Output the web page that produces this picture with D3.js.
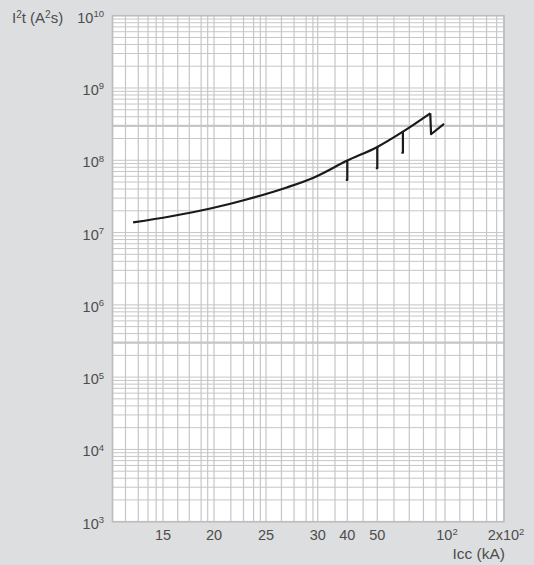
<!DOCTYPE html>
<html>
<head>
<meta charset="utf-8">
<script src="https://cdn.jsdelivr.net/npm/d3@7"></script>
<style>
  html, body { margin: 0; padding: 0; background: #dddee0; }
  svg { display: block; }
  text { font-family: "Liberation Sans", Arial, sans-serif; fill: #4d4d4d; }
</style>
</head>
<body>
<svg id="chart" width="534" height="565"></svg>
<script>
// Let-through energy I²t versus prospective short-circuit current Icc
const curveIcc = [11.8, 15.6, 19.6, 23.0, 26.9, 29.5, 40, 50, 65, 86];
const curveI2t = [1.38e7, 1.67e7, 2.15e7, 2.87e7, 4.21e7, 5.7e7, 9.9e7, 1.53e8, 2.49e8, 4.47e8];
const tailIcc = [86, 86.7, 99];
const tailI2t = [4.47e8, 2.29e8, 3.18e8];
const dropIcc = [40, 50, 65];
const dropTop = [9.9e7, 1.53e8, 2.49e8];
const dropBottom = [5.34e7, 7.75e7, 1.27e8];

// Current axis: labelled breakpoints and the background rulings in between
const xKnots = [10, 15, 20, 25, 30, 40, 50, 100, 200];
const xLabels = [
  { v: 15, base: "15" }, { v: 20, base: "20" }, { v: 25, base: "25" },
  { v: 30, base: "30" }, { v: 40, base: "40" }, { v: 50, base: "50" },
  { v: 100, base: "10", sup: "2" }, { v: 200, base: "2x10", sup: "2" }
];
const xMinor = [11.1, 12.3, 13.3, 14.2, 16.3, 17.4, 18.6, 19.3, 21.5, 22.7, 23.7, 24.4,
                26.4, 27.6, 28.8, 29.5, 35.5, 45, 59.3, 69.4, 80.2, 91.2, 119, 139.5, 163, 183.5];

// Energy axis: decades 10^3 … 10^10
const yExponents = [3, 4, 5, 6, 7, 8, 9, 10];
const yHeavy = [3e5, 3e8];

const svg = d3.select("#chart");
const plotL = 112.5, plotR = 504, plotT = 15.7, plotB = 521.7;

// Piecewise logarithmic current scale through the labelled values
const xRange = [plotL, 163, 214, 266, 317.7, 347.3, 377.3, 445, plotR];
const x = d3.scaleLog().domain(xKnots).range(xRange);
const y = d3.scaleLog().domain([1e3, 1e10]).range([plotB, plotT]);

// Plot background
svg.append("rect")
  .attr("x", plotL).attr("y", plotT)
  .attr("width", plotR - plotL).attr("height", plotB - plotT)
  .attr("fill", "#ffffff");

const grid = svg.append("g").attr("stroke", "#c6c6c8").attr("fill", "none");

// Horizontal rulings: decades and their 2…9 subdivisions
const yLines = [];
for (let e = 3; e < 10; e++) {
  for (let m = 1; m <= 9; m++) yLines.push(m * Math.pow(10, e));
}
yLines.push(1e10);
grid.selectAll("line.h").data(yLines).join("line")
  .attr("class", "h")
  .attr("x1", plotL).attr("x2", plotR)
  .attr("y1", d => y(d)).attr("y2", d => y(d))
  .attr("stroke-width", 1);
grid.selectAll("line.hh").data(yHeavy).join("line")
  .attr("class", "hh")
  .attr("x1", plotL).attr("x2", plotR)
  .attr("y1", d => y(d)).attr("y2", d => y(d))
  .attr("stroke-width", 2.2);

// Vertical rulings
const xLines = xKnots.concat(xMinor);
grid.selectAll("line.v").data(xLines).join("line")
  .attr("class", "v")
  .attr("x1", d => x(d)).attr("x2", d => x(d))
  .attr("y1", plotT).attr("y2", plotB)
  .attr("stroke-width", 1.2);

// Frame
grid.append("rect")
  .attr("x", plotL).attr("y", plotT)
  .attr("width", plotR - plotL).attr("height", plotB - plotT)
  .attr("stroke", "#bdbdc0").attr("stroke-width", 1.6);

// Characteristic curve
const main = curveIcc.map((v, i) => [v, curveI2t[i]]);
svg.append("path")
  .datum(main)
  .attr("d", d3.line().x(d => x(d[0])).y(d => y(d[1])).curve(d3.curveMonotoneX))
  .attr("fill", "none").attr("stroke", "#1a1a1a").attr("stroke-width", 2.2)
  .attr("stroke-linejoin", "round");
const tail = tailIcc.map((v, i) => [v, tailI2t[i]]);
svg.append("path")
  .datum(tail)
  .attr("d", d3.line().x(d => x(d[0])).y(d => y(d[1])))
  .attr("fill", "none").attr("stroke", "#1a1a1a").attr("stroke-width", 2.2)
  .attr("stroke-linejoin", "round");

// Limiting drops at the rated breaking capacities, each with a small foot
const drops = svg.append("g").attr("stroke", "#1a1a1a").attr("fill", "none")
  .attr("stroke-width", 2.2).attr("stroke-linejoin", "round");
drops.selectAll("path").data(dropIcc).join("path")
  .attr("d", (d, i) => {
    const px = x(d), y0 = y(dropTop[i]), y1 = y(dropBottom[i]);
    return `M${px},${y0}V${y1}h-1.5`;
  });

// Energy tick labels
const yl = svg.append("g").attr("font-size", 14.5).attr("text-anchor", "end");
yExponents.forEach(e => {
  const t = yl.append("text").attr("x", 104).attr("y", y(Math.pow(10, e)) + 7);
  t.append("tspan").text("10");
  t.append("tspan").attr("font-size", 9.5).attr("dy", -5.5).text(String(e));
});

// Current tick labels
const xl = svg.append("g").attr("font-size", 14.5).attr("text-anchor", "middle");
xLabels.forEach(d => {
  const t = xl.append("text").attr("x", x(d.v) + (d.sup ? 2 : 0)).attr("y", 540);
  t.append("tspan").text(d.base);
  if (d.sup) t.append("tspan").attr("font-size", 9.5).attr("dy", -5.5).text(d.sup);
});

// Axis titles
const yt = svg.append("text").attr("x", 12).attr("y", 23).attr("font-size", 15);
yt.append("tspan").text("I");
yt.append("tspan").attr("font-size", 10).attr("dy", -5).text("2");
yt.append("tspan").attr("dy", 5).text("t (A");
yt.append("tspan").attr("font-size", 10).attr("dy", -5).text("2");
yt.append("tspan").attr("dy", 5).text("s)");

svg.append("text").attr("x", 505).attr("y", 559)
  .attr("font-size", 15.5).attr("text-anchor", "end").text("Icc (kA)");
</script>
</body>
</html>
